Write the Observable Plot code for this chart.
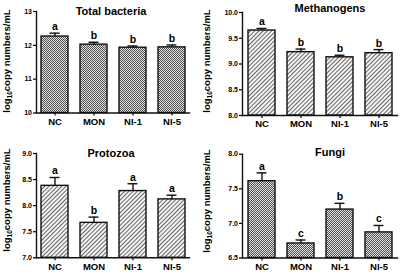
<!DOCTYPE html>
<html>
<head>
<meta charset="utf-8">
<script src="https://cdn.jsdelivr.net/npm/d3@7"></script>
<script src="https://cdn.jsdelivr.net/npm/@observablehq/plot@0.6"></script>
<style>
  html, body { margin: 0; padding: 0; background: #fff; }
  #wrap { position: relative; width: 400px; height: 275px; overflow: hidden; }
  .panel { position: absolute; }
  .ylab {
    position: absolute;
    white-space: nowrap;
    font-family: 'Liberation Sans', Arial, sans-serif;
    font-weight: bold;
    font-size: 9.5px;
    line-height: 10px;
    color: #000;
    transform: translate(-50%, -50%) rotate(-90deg);
  }
  .ylab sub { font-size: 6.5px; vertical-align: -1.5px; line-height: 0; }
</style>
</head>
<body>
<svg width="0" height="0" style="position:absolute">
  <defs>
    <pattern id="checker" patternUnits="userSpaceOnUse" width="2" height="2">
      <rect width="2" height="2" fill="#e2e2e2"></rect>
      <rect x="0" y="0" width="1" height="1" fill="#505050"></rect>
      <rect x="1" y="1" width="1" height="1" fill="#505050"></rect>
    </pattern>
    <pattern id="hatch" patternUnits="userSpaceOnUse" width="3" height="3" patternTransform="rotate(45)">
      <rect width="3" height="3" fill="#f4f4f4"></rect>
      <line x1="0" y1="0" x2="0" y2="3" stroke="#2a2a2a" stroke-width="1.4"></line>
    </pattern>
  </defs>
</svg>
<div id="wrap"></div>
<script>
const categories = ["NC", "MON", "NI-1", "NI-5"];

const bacteriaValues = [12.26, 12.02, 11.93, 11.94];
const bacteriaErrors = [0.10, 0.07, 0.05, 0.07];
const bacteriaLetters = ["a", "b", "b", "b"];
const bacteriaTicks = [10, 11, 12, 13];

const methanogenValues = [9.65, 9.23, 9.13, 9.21];
const methanogenErrors = [0.04, 0.06, 0.04, 0.07];
const methanogenLetters = ["a", "b", "b", "b"];
const methanogenTicks = [8.0, 8.5, 9.0, 9.5, 10.0];

const protozoaValues = [8.38, 7.67, 8.28, 8.12];
const protozoaErrors = [0.16, 0.11, 0.14, 0.08];
const protozoaLetters = ["a", "b", "a", "a"];
const protozoaTicks = [7.0, 7.5, 8.0, 8.5, 9.0];

const fungiValues = [7.61, 6.71, 7.20, 6.87];
const fungiErrors = [0.12, 0.05, 0.09, 0.10];
const fungiLetters = ["a", "c", "b", "c"];
const fungiTicks = [6.5, 7.0, 7.5, 8.0];

const yLabelHTML = "log<sub>10</sub>copy numbers/mL";

function panel(o) {
  const lo = o.ticks[0], hi = o.ticks[o.ticks.length - 1];
  const data = categories.map((c, i) => ({
    cat: c, v: o.values[i], top: o.values[i] + o.errors[i], l: o.letters[i]
  }));
  return Plot.plot({
    width: 200,
    height: o.h,
    marginLeft: o.ml, marginRight: o.mr, marginTop: o.mt, marginBottom: o.mb,
    style: {fontFamily: "'Liberation Sans', Arial, sans-serif", fontWeight: "bold", color: "#000", background: "transparent", overflow: "visible"},
    x: {domain: categories, paddingInner: 0.32, paddingOuter: 0.12, label: null},
    y: {domain: [lo, hi], label: null},
    marks: [
      Plot.barY(data, {x: "cat", y1: () => lo, y2: "v", fill: o.fill, stroke: "#111", strokeWidth: 1.4}),
      Plot.ruleX(data, {x: "cat", y1: "v", y2: "top", stroke: "#111", strokeWidth: 1.4}),
      Plot.tickY(data, {x: "cat", y: "top", stroke: "#111", strokeWidth: 1.4, insetLeft: 8.5, insetRight: 8.5}),
      Plot.text(data, {x: "cat", y: "top", text: "l", dy: -3, lineAnchor: "bottom", fontSize: 10.5, fontWeight: "bold"}),
      Plot.axisY({ticks: o.ticks, tickSize: 3, tickPadding: 1.5, fontSize: 7, tickFormat: o.fmt, strokeWidth: 1.2, label: null}),
      Plot.axisX({tickSize: 3, tickPadding: 2, fontSize: 9.5, strokeWidth: 1.2, label: null}),
      Plot.frame({anchor: "left", stroke: "#111", strokeWidth: 1.4}),
      Plot.frame({anchor: "bottom", stroke: "#111", strokeWidth: 1.4}),
      Plot.text([o.title], {frameAnchor: "top", dx: o.tdx, dy: o.tdy, fontSize: 11, fontWeight: "bold", lineAnchor: "middle"})
    ]
  });
}

const panels = [
  {left: 0, top: 0, h: 137, ml: 36, mr: 11, mt: 11, mb: 24.5, title: "Total bacteria", values: bacteriaValues, errors: bacteriaErrors, letters: bacteriaLetters, ticks: bacteriaTicks, fmt: d3.format("d"), fill: "url(#checker)", tdx: -2, tdy: 0, lx: 7, ly: 61},
  {left: 200, top: 0, h: 137, ml: 42, mr: 3, mt: 12, mb: 22, title: "Methanogens", values: methanogenValues, errors: methanogenErrors, letters: methanogenLetters, ticks: methanogenTicks, fmt: d3.format(".1f"), fill: "url(#hatch)", tdx: 10, tdy: -4, lx: 7, ly: 61},
  {left: 0, top: 137, h: 138, ml: 36, mr: 11, mt: 16, mb: 17.7, title: "Protozoa", values: protozoaValues, errors: protozoaErrors, letters: protozoaLetters, ticks: protozoaTicks, fmt: d3.format(".1f"), fill: "url(#hatch)", tdx: -2, tdy: 0, lx: 7, ly: 63},
  {left: 200, top: 137, h: 138, ml: 42, mr: 3, mt: 16.7, mb: 17.5, title: "Fungi", values: fungiValues, errors: fungiErrors, letters: fungiLetters, ticks: fungiTicks, fmt: d3.format(".1f"), fill: "url(#checker)", tdx: 10, tdy: -2, lx: 7, ly: 64}
];

const wrap = document.getElementById("wrap");
for (const p of panels) {
  const div = document.createElement("div");
  div.className = "panel";
  div.style.left = p.left + "px";
  div.style.top = p.top + "px";
  div.appendChild(panel(p));
  wrap.appendChild(div);
}
for (const p of panels) {
  const lab = document.createElement("div");
  lab.className = "ylab";
  lab.innerHTML = yLabelHTML;
  lab.style.left = (p.left + p.lx) + "px";
  lab.style.top = (p.top + p.ly) + "px";
  wrap.appendChild(lab);
}
</script>
</body>
</html>
